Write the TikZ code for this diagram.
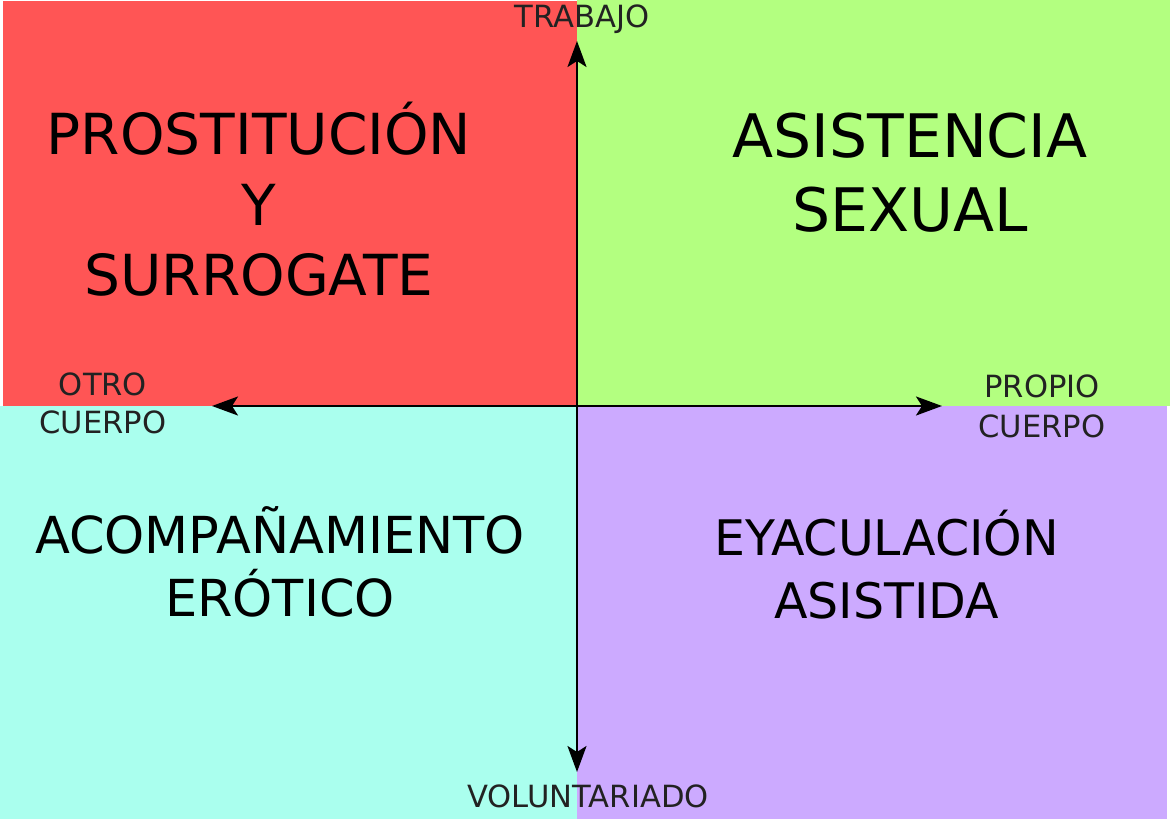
\documentclass[tikz,border=0pt]{standalone}
\usepackage{fontspec}
\setmainfont{DejaVu Sans}
\usetikzlibrary{arrows.meta}
\definecolor{qred}{HTML}{FF5555}
\definecolor{qgreen}{HTML}{B3FF80}
\definecolor{qcyan}{HTML}{AAFFEE}
\definecolor{qpurple}{HTML}{CCAAFF}
\definecolor{lblgray}{HTML}{222222}
\tikzset{
  axis/.style={line width=2.3pt, -{Stealth[length=26pt,width=19pt,inset=6pt]}},
  small/.style={text=lblgray, font=\fontsize{30.6}{38}\selectfont, inner sep=0pt, anchor=base, align=center},
  big/.style={text=black, inner sep=0pt, anchor=base, align=center},
}
\begin{document}
\begin{tikzpicture}[x=1pt,y=-1pt]
\useasboundingbox[fill=white] (0,0) rectangle (1170,821);
\fill[qred] (3,1) rectangle (577,406);
\fill[qgreen] (577,0) rectangle (1170,406);
\fill[qcyan] (0,406) rectangle (577,819);
\fill[qpurple] (577,406) rectangle (1167,819);

\coordinate (O) at (577,406);
\coordinate (top) at (577,41);
\coordinate (bottom) at (577,772);
\coordinate (left) at (212,406);
\coordinate (right) at (942,406);
\draw[axis] (O) -- (top);
\draw[axis] (O) -- (bottom);
\draw[axis] (O) -- (left);
\draw[axis] (O) -- (right);

\node[small] (trabajo) at (582,28) {TRABAJO};
\node[small] (voluntariado) at (588,807) {VOLUNTARIADO};
\node[small, font=\fontsize{30.6}{38}\selectfont] (otro) at (103,433) {OTRO\\CUERPO};
\node[small, font=\fontsize{30.6}{40}\selectfont] (propio) at (1042,437) {PROPIO\\CUERPO};

\node[big, font=\fontsize{56.6}{70.5}\selectfont] (prost) at (259,295.5) {PROSTITUCIÓN\\Y\\SURROGATE};
\node[big, font=\fontsize{60}{74}\selectfont] (asist) at (910,232) {ASISTENCIA\\SEXUAL};
\node[big, font=\fontsize{51}{63}\selectfont] (acomp) at (280,616) {ACOMPAÑAMIENTO\\ERÓTICO};
\node[big, font=\fontsize{49}{63}\selectfont] (eyac) at (886.5,618) {EYACULACIÓN\\ASISTIDA};
\end{tikzpicture}
\end{document}
